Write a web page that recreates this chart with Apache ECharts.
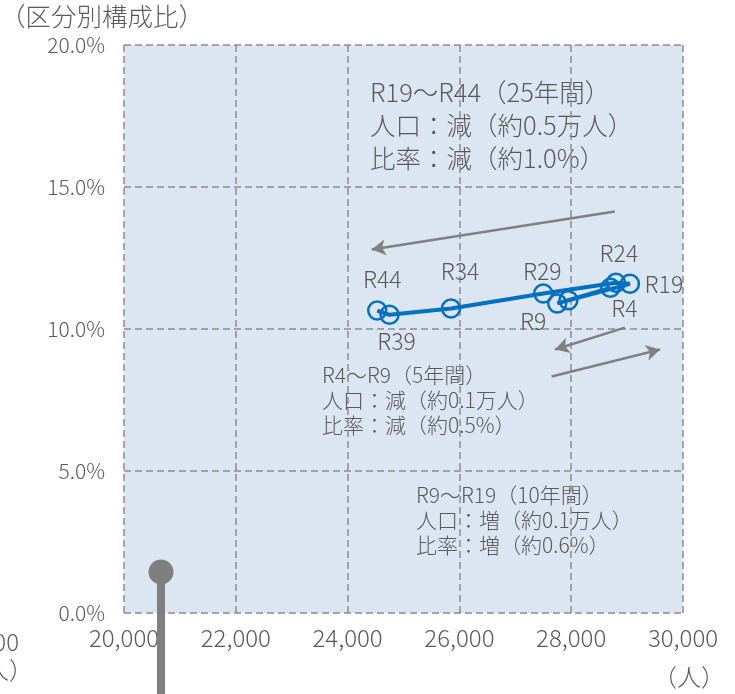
<!DOCTYPE html>
<html><head><meta charset="utf-8">
<script src="https://cdn.jsdelivr.net/npm/echarts@6/dist/echarts.min.js"></script>
<style>html,body{margin:0;padding:0;background:#fff}#c{width:735px;height:694px}</style>
</head><body><div id="c"></div>
<script>
// 年次ごとの人口（人）と区分別構成比（%）
const periods = ['R4', 'R9', 'R14', 'R19', 'R24', 'R29', 'R34', 'R39', 'R44'];
const population = [28700, 27750, 27950, 29050, 28800, 27500, 25850, 24750, 24530];
const shareRatio = [11.45, 10.90, 11.01, 11.59, 11.63, 11.25, 10.72, 10.50, 10.65];
const xTickLabels = ['20,000', '22,000', '24,000', '26,000', '28,000', '30,000'];
const yTickLabels = ['0.0%', '5.0%', '10.0%', '15.0%', '20.0%'];
// 傾向を示す矢印（始点・終点）
const trendArrows = [
  [[28780, 14.14], [24430, 12.80]],
  [[28960, 10.05], [27710, 9.28]],
  [[27650, 8.33], [29590, 9.28]]
];
const notes = [
  ['R19～R44（25年間）', '人口：減（約0.5万人）', '比率：減（約1.0%）'],
  ['R4～R9（5年間）', '人口：減（約0.1万人）', '比率：減（約0.5%）'],
  ['R9～R19（10年間）', '人口：増（約0.1万人）', '比率：増（約0.6%）']
];

// ラベル配置（点からのずれ）
const labelOffsets = { R4: [14, 20], R9: [-24, 18], R19: [34, 0], R24: [3, -29], R29: [-1, -22], R34: [9, -37], R39: [7, 26], R44: [5, -31] };

const FONT = "'Noto Sans CJK JP', 'Noto Sans', sans-serif";
const TXT = '#595959';
const BLUE = '#0070c0';
const GREY = '#808080';

const points = periods.map((p, i) => {
  const off = labelOffsets[p];
  return {
    name: p,
    value: [population[i], shareRatio[i]],
    label: off ? { show: true, position: 'inside', offset: off, formatter: p } : { show: false }
  };
});

const chart = echarts.init(document.getElementById('c'), null, { renderer: 'canvas' });
chart.setOption({
  animation: false,
  backgroundColor: '#ffffff',
  textStyle: { fontFamily: FONT },
  grid: {
    left: 124, top: 45, width: 559, height: 568,
    show: true, backgroundColor: '#dce6f2', borderWidth: 0
  },
  xAxis: {
    type: 'value', min: 20000, max: 30000, interval: 2000,
    axisLine: { show: false }, axisTick: { show: false },
    splitLine: { show: true, lineStyle: { color: '#8c8c8c', width: 1.5, type: [7, 4] } },
    axisLabel: {
      color: TXT, fontSize: 24, fontWeight: 300, fontFamily: FONT, margin: 13,
      formatter: v => xTickLabels[Math.round((v - 20000) / 2000)]
    }
  },
  yAxis: {
    type: 'value', min: 0, max: 20, interval: 5,
    axisLine: { show: false }, axisTick: { show: false },
    splitLine: { show: true, lineStyle: { color: '#8c8c8c', width: 1.5, type: [7, 4] } },
    axisLabel: {
      color: TXT, fontSize: 21, fontWeight: 300, fontFamily: FONT, margin: 19,
      formatter: v => yTickLabels[Math.round(v / 5)]
    }
  },
  series: [{
    type: 'line',
    data: points,
    symbol: 'circle',
    symbolSize: 18,
    lineStyle: { color: BLUE, width: 4 },
    itemStyle: { color: 'rgba(0,0,0,0)', borderColor: BLUE, borderWidth: 2.5 },
    label: { color: TXT, fontSize: 23, fontWeight: 300, fontFamily: FONT },
    markLine: {
      silent: true,
      symbol: ['none', 'arrow'],
      symbolSize: [12, 14],
      label: { show: false },
      lineStyle: { color: GREY, width: 2.5, type: 'solid' },
      data: trendArrows.map(a => [{ coord: a[0] }, { coord: a[1] }])
    }
  }],
  graphic: [
    { type: 'text', left: 0, top: 4, style: { text: '（区分別構成比）', fill: TXT, font: '300 25.5px ' + FONT } },
    { type: 'text', right: 10, top: 665, style: { text: '（人）', fill: TXT, font: '300 24px ' + FONT } },
    // 左側の隣接図の一部
    { type: 'text', x: 19, y: 642, style: { text: '30,000', fill: TXT, font: '300 24px ' + FONT, align: 'right', verticalAlign: 'middle' } },
    { type: 'text', x: 33, y: 670, style: { text: '（人）', fill: TXT, font: '300 24px ' + FONT, align: 'right', verticalAlign: 'middle' } },
    { type: 'line', shape: { x1: 161, y1: 572, x2: 161, y2: 700 }, style: { stroke: '#7f7f7f', lineWidth: 8 }, z: 10 },
    { type: 'circle', shape: { cx: 161, cy: 572, r: 12.5 }, style: { fill: '#7f7f7f' }, z: 10 },
    // 期間ごとの注記
    { type: 'text', x: 370, y: 76, style: { text: notes[0].join('\n'), fill: TXT, font: '300 25.5px ' + FONT, lineHeight: 33 } },
    { type: 'text', x: 322, y: 363, style: { text: notes[1].join('\n'), fill: TXT, font: '300 21px ' + FONT, lineHeight: 25 } },
    { type: 'text', x: 416, y: 483, style: { text: notes[2].join('\n'), fill: TXT, font: '300 21px ' + FONT, lineHeight: 25 } }
  ]
});
</script>
</body></html>
